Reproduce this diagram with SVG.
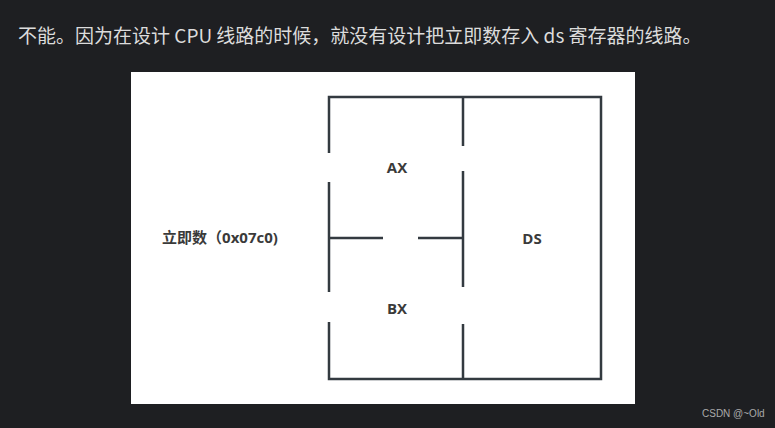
<svg xmlns="http://www.w3.org/2000/svg" width="775" height="428" viewBox="0 0 775 428">
<style>
.w{stroke:#333a40;stroke-width:2.5;fill:none}
.l{font-family:"Open Sans","Noto Sans CJK SC",sans-serif;font-weight:bold;fill:#3a3a3a;font-size:15px;text-anchor:middle}
</style>
<rect width="775" height="428" fill="#1e1f22"/>
<text x="18" y="43" font-family="'Noto Sans CJK SC',sans-serif" font-size="19" fill="#dcdcdc">不能。因为在设计 CPU 线路的时候，就没有设计把立即数存入 ds 寄存器的线路。</text>
<rect x="131" y="72" width="504" height="332" fill="#ffffff"/>
<g id="connectors">
<path class="w" d="M329,153 V97 H601 V379 H329 V322 M329,182 V292 M463,97 V146 M463,171 V287 M463,324 V379 M329,238 H383 M418,238 H463"/>
</g>
<g id="imm"><text x="220" y="243" class="l" font-size="16" fill="#111">立即数（0x07c0)</text></g>
<g id="ax"><text x="397" y="173" class="l">AX</text></g>
<g id="bx"><text x="397" y="314" class="l">BX</text></g>
<g id="ds"><text x="532" y="244" class="l">DS</text></g>
<text x="702" y="417" font-family="'Liberation Sans',sans-serif" font-size="10" fill="#aaaaaa">CSDN @~Old</text>
</svg>
